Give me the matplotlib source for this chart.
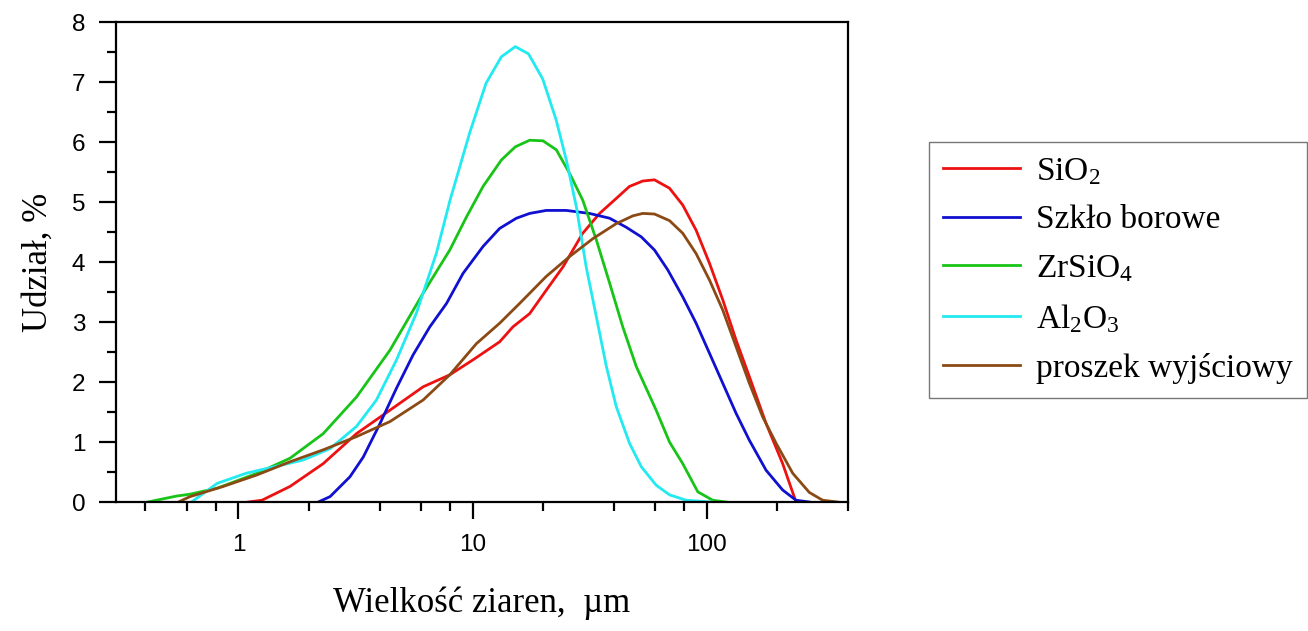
import matplotlib
matplotlib.use("Agg")
import matplotlib.pyplot as plt
from matplotlib.ticker import FixedLocator, NullFormatter, FixedFormatter

plt.rcParams['mathtext.default'] = 'regular'

# particle size distributions (size in um, share in %)
sio2_x = [1.10, 1.26, 1.66, 2.30, 3.19, 4.43, 6.14, 7.98, 10.03, 13.03, 14.85, 17.5, 20.6, 24.3,
          29.5, 34.8, 41.0, 46.7, 53.2, 59.7, 69.2, 78.8, 89.9, 102.5, 116.8, 133.1, 151.7,
          178.8, 210.5, 240]
sio2_y = [0, 0.03, 0.26, 0.64, 1.14, 1.53, 1.92, 2.12, 2.37, 2.67, 2.92, 3.14, 3.53, 3.92,
          4.48, 4.81, 5.06, 5.26, 5.35, 5.37, 5.23, 4.95, 4.53, 3.98, 3.37, 2.70, 2.09,
          1.31, 0.64, 0]

szklo_x = [2.19, 2.46, 2.99, 3.41, 4.01, 4.73, 5.56, 6.56, 7.73, 9.09, 11.07, 13.03, 15.36,
           17.5, 20.6, 25.1, 31.5, 38.4, 45.2, 52.4, 59.7, 68.0, 78.8, 89.9, 102.5, 116.8,
           133.1, 151.7, 178.8, 210.5, 240, 273.5]
szklo_y = [0, 0.09, 0.42, 0.75, 1.3, 1.9, 2.45, 2.92, 3.31, 3.81, 4.26, 4.56, 4.73,
           4.81, 4.86, 4.86, 4.81, 4.73, 4.58, 4.42, 4.2, 3.87, 3.42, 2.98, 2.48, 1.98,
           1.48, 1.03, 0.53, 0.2, 0.03, 0]

zr_x = [0.41, 0.545, 0.62, 0.81, 1.2, 1.66, 2.3, 3.19, 4.43, 6.14, 7.98, 9.4, 11.07, 13.25,
        15.2, 17.5, 19.95, 22.75, 25.9, 29.5, 33.7, 38.4, 43.7, 49.9, 60.7, 69.2, 78.8,
        91.4, 105.8, 120.7]
zr_y = [0, 0.10, 0.13, 0.23, 0.48, 0.73, 1.14, 1.75, 2.53, 3.48, 4.2, 4.75, 5.26, 5.70,
        5.92, 6.03, 6.02, 5.87, 5.48, 5.03, 4.37, 3.65, 2.92, 2.26, 1.53, 1.0, 0.64,
        0.17, 0.03, 0]

al_x = [0.63, 0.81, 1.08, 1.89, 2.46, 3.19, 3.88, 4.73, 5.75, 7.0, 8.0, 9.7, 11.4, 13.25,
        15.2, 17.3, 19.9, 22.7, 25.1, 27.7, 30.5, 33.7, 37.2, 41.0, 46.7, 52.4, 60.7,
        69.2, 81.5, 105]
al_y = [0, 0.31, 0.48, 0.70, 0.89, 1.26, 1.70, 2.37, 3.15, 4.15, 5.03, 6.15, 6.98, 7.42,
        7.59, 7.47, 7.05, 6.37, 5.70, 4.92, 3.92, 3.09, 2.26, 1.59, 0.98, 0.59, 0.28,
        0.12, 0.03, 0]

proszek_x = [0.554, 0.621, 0.861, 1.196, 1.658, 2.30, 3.19, 4.43, 6.14, 7.98, 10.37, 13.03,
             15.86, 20.6, 25.9, 32.6, 41.0, 48.3, 53.2, 59.7, 69.2, 78.8, 89.9, 102.5,
             116.8, 133.1, 151.7, 172.9, 197.3, 232.3, 273.5, 311.8, 361]
proszek_y = [0, 0.09, 0.26, 0.45, 0.67, 0.87, 1.09, 1.34, 1.70, 2.12, 2.64, 2.98,
             3.31, 3.76, 4.09, 4.39, 4.64, 4.77, 4.81, 4.80, 4.69, 4.48, 4.14, 3.70,
             3.20, 2.59, 1.98, 1.42, 0.98, 0.48, 0.16, 0.03, 0]

labels = ['SiO$_2$', 'Szkło borowe', 'ZrSiO$_4$', 'Al$_2$O$_3$', 'proszek wyjściowy']
colors = ['#ee1111', '#1010d0', '#18c418', '#22eaf0', '#8b4a14']

fig = plt.figure(figsize=(13.08, 6.31), dpi=100)
ax = fig.add_axes([0.0887, 0.2044, 0.5596, 0.7607])

series = [(sio2_x, sio2_y), (szklo_x, szklo_y), (zr_x, zr_y), (al_x, al_y), (proszek_x, proszek_y)]
for (xs, ys), lab, c in zip(series, labels, colors):
    ax.plot(xs, ys, color=c, lw=2.0, label=lab)

ax.set_xscale('log')
ax.set_xlim(0.3, 400)
ax.set_ylim(0, 8)

ax.xaxis.set_major_locator(FixedLocator([1, 10, 100]))
ax.xaxis.set_major_formatter(FixedFormatter(['1', '10', '100']))
minors = [m * 10.0 ** e for e in (-1, 0, 1, 2) for m in (2, 4, 6, 8)]
ax.xaxis.set_minor_locator(FixedLocator([v for v in minors if 0.3 <= v <= 400]))
ax.xaxis.set_minor_formatter(NullFormatter())
ax.yaxis.set_major_locator(FixedLocator(range(0, 9)))
ax.yaxis.set_minor_locator(FixedLocator([i + 0.5 for i in range(8)]))

for s in ax.spines.values():
    s.set_linewidth(1.6)
ax.tick_params(which='major', direction='out', length=12, width=1.6, labelsize=17.5, pad=11)
ax.tick_params(which='minor', direction='out', length=6.5, width=1.6)
ax.tick_params(axis='y', which='major', pad=10)
for t in ax.get_xticklabels() + ax.get_yticklabels():
    t.set_family('Liberation Sans')

ax.set_xlabel('Wielkość ziaren,  µm', family='Liberation Serif', fontsize=25, labelpad=22)
ax.set_ylabel('Udział, %', family='Liberation Serif', fontsize=25, labelpad=12)

leg = ax.legend(loc='upper left', bbox_to_anchor=(929 / 1308, 1 - 142 / 631),
                bbox_transform=fig.transFigure, prop={'family': 'Liberation Serif', 'size': 24},
                frameon=True, fancybox=False, edgecolor='#555555', handlelength=2.3,
                handletextpad=0.5, labelspacing=0.54, borderpad=0.42, borderaxespad=0)
leg.get_frame().set_linewidth(1.0)
for line in leg.get_lines():
    line.set_linewidth(2.0)

fig.savefig('out.png', dpi=100)
